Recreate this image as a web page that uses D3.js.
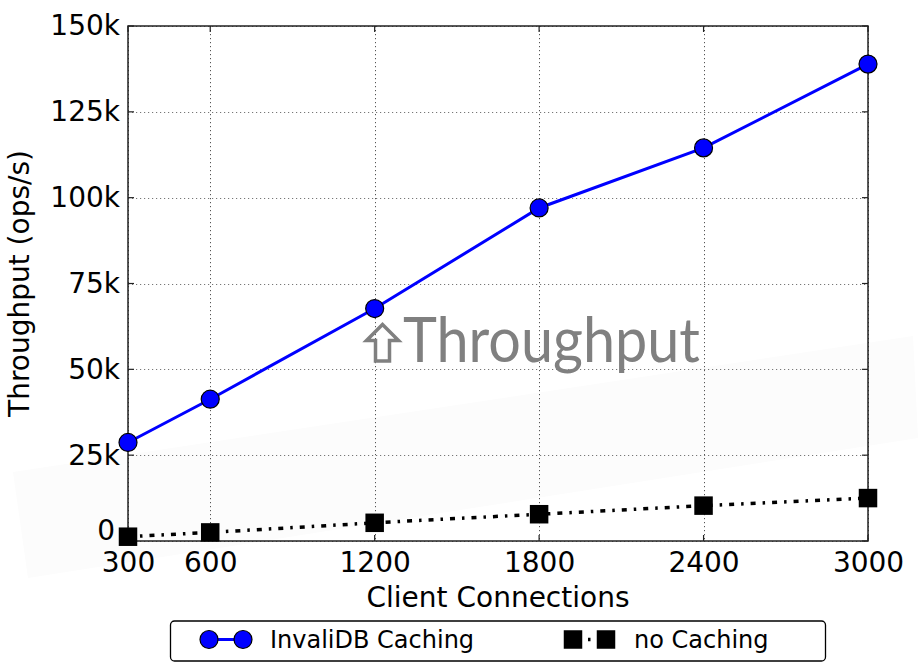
<!DOCTYPE html>
<html>
<head>
<meta charset="utf-8">
<script src="https://cdn.jsdelivr.net/npm/d3@7"></script>
<style>
  html, body { margin: 0; padding: 0; background: #fff; }
  svg { display: block; }
  text { font-family: "DejaVu Sans", sans-serif; }
</style>
</head>
<body>
<svg id="chart" width="922" height="663"></svg>
<script>
// Client connection counts (x axis)
const connections = [300, 600, 1200, 1800, 2400, 3000];
// Throughput in ops/s for each configuration
const invalidbCaching = [28700, 41300, 67700, 97000, 114500, 138900];
const noCaching = [1250, 2500, 5300, 7800, 10300, 12500];
// Axis ticks
const xTicks = [300, 600, 1200, 1800, 2400, 3000];
const yTicks = [0, 25000, 50000, 75000, 100000, 125000, 150000];
const seriesNames = ["InvaliDB Caching", "no Caching"];

const svg = d3.select("#chart");
const plot = { left: 128, top: 26, right: 868, bottom: 541 };

const x = d3.scaleLinear().domain([300, 3000]).range([plot.left, plot.right]);
const y = d3.scaleLinear().domain([0, 150000]).range([plot.bottom, plot.top]);
const fmtY = d => d === 0 ? "0" : (d / 1000) + "k";

// faint background wash behind the lower part of the figure
svg.append("polygon")
  .attr("points", "13,472 913,336 918,438 28,578")
  .attr("fill", "#fcfcfc");

// grid
const grid = svg.append("g");
grid.selectAll("line.gx").data(xTicks).join("line")
  .attr("x1", d => Math.round(x(d)) + 0.5).attr("x2", d => Math.round(x(d)) + 0.5)
  .attr("y1", plot.top).attr("y2", plot.bottom)
  .attr("stroke", "#555").attr("stroke-width", 1).attr("stroke-dasharray", "1.2,2.8");
grid.selectAll("line.gy").data(yTicks).join("line")
  .attr("y1", d => Math.round(y(d)) + 0.5).attr("y2", d => Math.round(y(d)) + 0.5)
  .attr("x1", plot.left).attr("x2", plot.right)
  .attr("stroke", "#777").attr("stroke-width", 1).attr("stroke-dasharray", "1.2,2.8");

// annotation: hollow up-arrow followed by the word
svg.append("path")
  .attr("d", "M375.5,361 L375.5,340.5 L366.5,340.5 L382.5,324.5 L398.5,340.5 L389.5,340.5 L389.5,361 Z")
  .attr("fill", "none").attr("stroke", "#808080").attr("stroke-width", 3.5)
  .attr("stroke-linejoin", "miter");
svg.append("text")
  .attr("x", 403).attr("y", 362)
  .attr("fill", "#808080")
  .attr("textLength", 297).attr("lengthAdjust", "spacingAndGlyphs")
  .style("font-family", "Lato, 'Open Sans', sans-serif")
  .style("font-size", "61px")
  .text("Throughput");

// frame
svg.append("rect")
  .attr("x", plot.left).attr("y", plot.top)
  .attr("width", plot.right - plot.left).attr("height", plot.bottom - plot.top)
  .attr("fill", "none").attr("stroke", "#222").attr("stroke-width", 1.5);

// inward ticks on all four sides
const tk = svg.append("g").attr("stroke", "#222").attr("stroke-width", 1.2);
xTicks.forEach(d => {
  tk.append("line").attr("x1", x(d)).attr("x2", x(d)).attr("y1", plot.bottom).attr("y2", plot.bottom - 6);
  tk.append("line").attr("x1", x(d)).attr("x2", x(d)).attr("y1", plot.top).attr("y2", plot.top + 6);
});
yTicks.forEach(d => {
  tk.append("line").attr("y1", y(d)).attr("y2", y(d)).attr("x1", plot.left).attr("x2", plot.left + 6);
  tk.append("line").attr("y1", y(d)).attr("y2", y(d)).attr("x1", plot.right).attr("x2", plot.right - 6);
});

// axes labels via d3 axes (tick lines hidden, labels kept)
const xAxis = svg.append("g").attr("transform", `translate(0,${plot.bottom})`)
  .call(d3.axisBottom(x).tickValues(xTicks).tickSize(0).tickPadding(11).tickFormat(d3.format("d")));
const yAxis = svg.append("g").attr("transform", `translate(${plot.left},0)`)
  .call(d3.axisLeft(y).tickValues(yTicks).tickSize(0).tickPadding(8).tickFormat(fmtY));
[xAxis, yAxis].forEach(a => {
  a.select(".domain").remove();
  a.selectAll("text").attr("fill", "#000").style("font-family", "'DejaVu Sans', sans-serif").style("font-size", "28px");
});
// the zero label sits higher and closer so it clears the x labels
yAxis.selectAll(".tick").filter(d => d === 0).select("text")
  .attr("x", -13).attr("dy", "-0.06em");

svg.append("text")
  .attr("x", (plot.left + plot.right) / 2).attr("y", 607)
  .attr("text-anchor", "middle").style("font-size", "28px")
  .text("Client Connections");
svg.append("text")
  .attr("transform", `translate(29,${(plot.top + plot.bottom) / 2}) rotate(-90)`)
  .attr("text-anchor", "middle").style("font-size", "28px")
  .text("Throughput (ops/s)");

// series
const line = d3.line().x(d => x(d[0])).y(d => y(d[1]));
const blueData = connections.map((c, i) => [c, invalidbCaching[i]]);
const blackData = connections.map((c, i) => [c, noCaching[i]]);

svg.append("path").datum(blackData).attr("d", line)
  .attr("fill", "none").attr("stroke", "#000").attr("stroke-width", 3.5)
  .attr("stroke-dasharray", "5,7,2.5,7");
svg.selectAll("rect.sq").data(blackData).join("rect")
  .attr("x", d => x(d[0]) - 9.25).attr("y", d => y(d[1]) - 9.25)
  .attr("width", 18.5).attr("height", 18.5).attr("fill", "#000");

svg.append("path").datum(blueData).attr("d", line)
  .attr("fill", "none").attr("stroke", "#0000ff").attr("stroke-width", 3);
svg.selectAll("circle.pt").data(blueData).join("circle")
  .attr("cx", d => x(d[0])).attr("cy", d => y(d[1])).attr("r", 9)
  .attr("fill", "#0000ff").attr("stroke", "#000").attr("stroke-width", 1.2);

// legend
const lg = svg.append("g");
lg.append("rect").attr("x", 170.5).attr("y", 621).attr("width", 655).attr("height", 40).attr("rx", 4)
  .attr("fill", "#fff").attr("stroke", "#000").attr("stroke-width", 1.3);
const ly = 639.5;
lg.append("line").attr("x1", 209).attr("x2", 243).attr("y1", ly).attr("y2", ly)
  .attr("stroke", "#0000ff").attr("stroke-width", 3);
[209, 243].forEach(cx => lg.append("circle").attr("cx", cx).attr("cy", ly).attr("r", 9)
  .attr("fill", "#0000ff").attr("stroke", "#000").attr("stroke-width", 1.2));
lg.append("text").attr("x", 270).attr("y", 648).style("font-size", "24px").text(seriesNames[0]);
lg.append("line").attr("x1", 573).attr("x2", 606).attr("y1", ly).attr("y2", ly)
  .attr("stroke", "#000").attr("stroke-width", 3.5).attr("stroke-dasharray", "0,15,2.5,20");
[573, 606].forEach(cx => lg.append("rect").attr("x", cx - 9.25).attr("y", ly - 9.25)
  .attr("width", 18.5).attr("height", 18.5).attr("fill", "#000"));
lg.append("text").attr("x", 634).attr("y", 648).style("font-size", "24px").text(seriesNames[1]);
</script>
</body>
</html>
